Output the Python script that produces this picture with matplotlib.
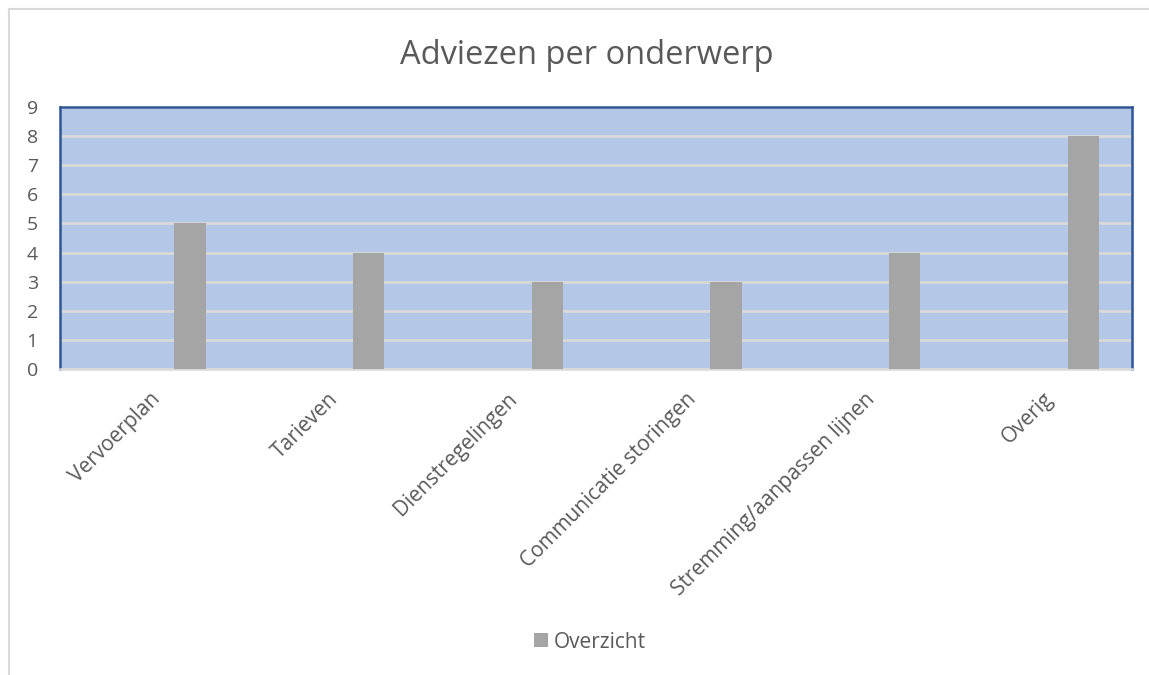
import matplotlib
matplotlib.use("Agg")
import matplotlib.pyplot as plt
from matplotlib.lines import Line2D
from matplotlib.patches import Patch
import numpy as np

categories = ["Vervoerplan", "Tarieven", "Dienstregelingen", "Communicatie storingen",
              "Stremming/aanpassen lijnen", "Overig"]
values = [5, 4, 3, 3, 4, 8]
series_name = "Overzicht"
title = "Adviezen per onderwerp"
yticks = list(range(0, 10))

plt.rcParams['font.family'] = ['Open Sans', 'DejaVu Sans']
txt = "#595959"

fig = plt.figure(figsize=(11.49, 6.75), dpi=100)
ax = fig.add_axes([60/1149, 1-369/675, (1132-60)/1149, (369-107)/675])
ax.set_facecolor("#B4C7E7")

x = np.arange(len(categories))
ax.bar(x + 0.227, values, width=0.175, color="#A5A5A5", zorder=3)
ax.set_xlim(-0.5, len(categories) - 0.5)
ax.set_ylim(0, 9)
ax.set_yticks(yticks)
ax.set_yticklabels([str(v) for v in yticks], color=txt, fontsize=14)
ax.yaxis.grid(True, color="#D9D9D9", linewidth=2, zorder=1)
ax.set_axisbelow(True)
ax.tick_params(axis='y', length=0, pad=16)
ax.tick_params(axis='x', length=0, pad=14)
ax.set_xticks(x)
ax.set_xticklabels(categories, rotation=45, ha='right', va='top',
                   rotation_mode='anchor', color=txt, fontsize=15)
for s in ['left', 'top', 'right']:
    ax.spines[s].set_color("#2F5597")
    ax.spines[s].set_linewidth(1.8)
ax.spines['bottom'].set_color("#D9D9D9")
ax.spines['bottom'].set_linewidth(1.8)

fig.text(587/1149, 1-55/675, title, ha='center', va='center', fontsize=23.5, color=txt)

fig.legend(handles=[Patch(facecolor="#A5A5A5", label=series_name)],
           loc='center', bbox_to_anchor=(590/1149, 1-642/675), frameon=False,
           fontsize=15, handlelength=0.65, handleheight=0.65, handletextpad=0.3,
           labelcolor=txt)

# chart outline (cropped)
fig.add_artist(Line2D([8.5/1149, 8.5/1149], [0, 1-9/675], color="#D9D9D9", linewidth=1.5))
fig.add_artist(Line2D([8.5/1149, 1], [1-9/675, 1-9/675], color="#D9D9D9", linewidth=1.5))

fig.savefig("out.png", dpi=100)
